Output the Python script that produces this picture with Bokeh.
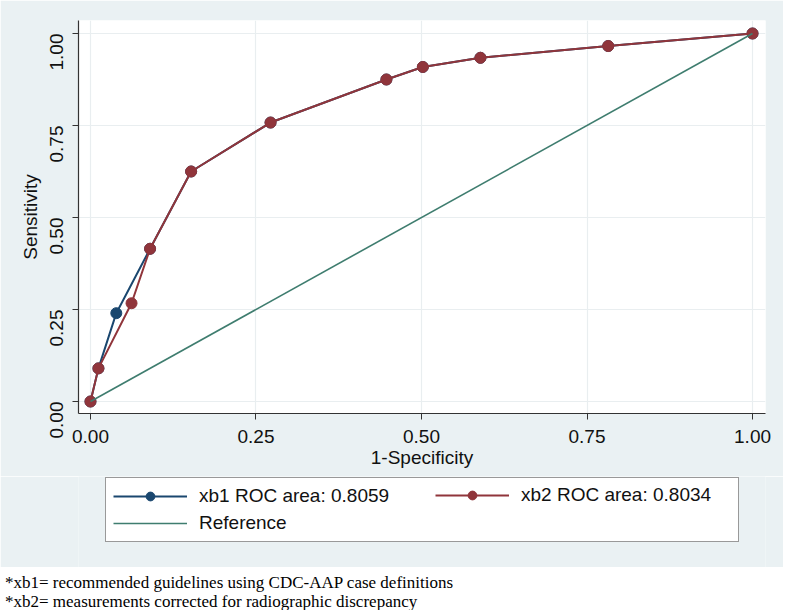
from bokeh.plotting import figure
from bokeh.models import (Legend, LegendItem, FixedTicker, PrintfTickFormatter,
                          Range1d, Div)
from bokeh.layouts import column
from bokeh.embed import file_html
from bokeh.resources import INLINE
import math

# ---- data ----
xb1_fpr = [0.0, 0.012, 0.039, 0.090, 0.152, 0.272, 0.447, 0.502, 0.589, 0.782, 1.0]
xb1_tpr = [0.0, 0.090, 0.240, 0.415, 0.625, 0.758, 0.875, 0.909, 0.934, 0.966, 1.0]
xb2_fpr = [0.0, 0.012, 0.062, 0.090, 0.152, 0.272, 0.447, 0.502, 0.589, 0.782, 1.0]
xb2_tpr = [0.0, 0.090, 0.267, 0.415, 0.625, 0.758, 0.875, 0.909, 0.934, 0.966, 1.0]
ref_x = [0.0, 1.0]
ref_y = [0.0, 1.0]
ticks = [0.0, 0.25, 0.5, 0.75, 1.0]
xb1_label = "xb1 ROC area: 0.8059"
xb2_label = "xb2 ROC area: 0.8034"
ref_label = "Reference"
x_title = "1-Specificity"
y_title = "Sensitivity"
notes = ["*xb1= recommended guidelines using CDC-AAP case definitions",
         "*xb2= measurements corrected for radiographic discrepancy"]

# ---- style ----
BG = "#eaf1f3"
NAVY = "#1a476f"
MAROON = "#90353b"
TEAL = "#3f7d6f"
GRID = "#e9eef0"
AXIS = "#333333"
FONT = "Liberation Sans"
FS = "19px"

p = figure(width=783, height=476, output_backend="svg", toolbar_location=None,
           x_range=Range1d(-0.0181, 1.0196), y_range=Range1d(-0.0326, 1.0353),
           min_border_left=78, min_border_right=18, min_border_top=20,
           min_border_bottom=63)
p.border_fill_color = BG
p.background_fill_color = "white"
p.outline_line_color = None

for ax in (p.xaxis[0], p.yaxis[0]):
    ax.ticker = FixedTicker(ticks=ticks)
    ax.formatter = PrintfTickFormatter(format="%.2f")
    ax.axis_line_color = AXIS
    ax.axis_line_width = 1.2
    ax.major_tick_line_color = AXIS
    ax.major_tick_out = 6
    ax.major_tick_in = 0
    ax.minor_tick_line_color = None
    ax.major_label_text_font = FONT
    ax.major_label_text_font_size = FS
    ax.major_label_text_color = "#111111"
    ax.axis_label_text_font = FONT
    ax.axis_label_text_font_size = FS
    ax.axis_label_text_font_style = "normal"
    ax.axis_label_text_color = "#111111"

p.xaxis.axis_label = x_title
p.yaxis.axis_label = y_title
p.yaxis.major_label_orientation = math.pi / 2
p.xaxis.major_label_standoff = 10
p.yaxis.major_label_standoff = 16
p.xaxis.axis_label_standoff = 1
p.yaxis.axis_label_standoff = 0

p.xgrid.ticker = FixedTicker(ticks=ticks)
p.ygrid.ticker = FixedTicker(ticks=ticks)
p.grid.grid_line_color = GRID
p.grid.grid_line_width = 1.2

p.line(xb1_fpr, xb1_tpr, line_color=NAVY, line_width=2)
p.scatter(xb1_fpr, xb1_tpr, size=11, fill_color=NAVY, line_color=NAVY)
p.line(xb2_fpr, xb2_tpr, line_color=MAROON, line_width=2)
p.scatter(xb2_fpr, xb2_tpr, size=11, fill_color=MAROON, line_color=MAROON)
p.line(ref_x, ref_y, line_color=TEAL, line_width=1.6)

# ---- legend strip (same background, frame aligned with the plot) ----
# its ranges lie away from the data, so the key renderers only show in the legend
lg = figure(width=783, height=91, output_backend="svg", toolbar_location=None,
            x_range=Range1d(5, 6), y_range=Range1d(5, 6),
            min_border_left=78, min_border_right=18, min_border_top=0,
            min_border_bottom=0)
lg.axis.visible = False
lg.grid.visible = False
lg.outline_line_color = None
lg.border_fill_color = BG
lg.background_fill_color = BG

k1l = lg.line(xb1_fpr, xb1_tpr, line_color=NAVY, line_width=2)
k1s = lg.scatter(xb1_fpr, xb1_tpr, size=10, fill_color=NAVY, line_color=NAVY)
k2l = lg.line(xb2_fpr, xb2_tpr, line_color=MAROON, line_width=2)
k2s = lg.scatter(xb2_fpr, xb2_tpr, size=10, fill_color=MAROON, line_color=MAROON)
krl = lg.line(ref_x, ref_y, line_color=TEAL, line_width=1.6)


def style_legend(lgd):
    lgd.label_text_font = FONT
    lgd.label_text_font_size = FS
    lgd.label_text_color = "#111111"
    lgd.glyph_width = 74
    lgd.glyph_height = 22
    lgd.label_height = 22
    lgd.label_standoff = 12
    lgd.padding = 7
    lgd.spacing = 5
    lgd.margin = 0


leg_a = Legend(items=[LegendItem(label=xb1_label, renderers=[k1l, k1s]),
                      LegendItem(label=ref_label, renderers=[krl])],
               location=(27, 25), orientation="vertical")
style_legend(leg_a)
leg_a.label_width = 532
leg_a.border_line_color = AXIS
leg_a.border_line_width = 1.2
leg_a.background_fill_color = "white"
leg_a.background_fill_alpha = 1
lg.add_layout(leg_a, "center")

leg_b = Legend(items=[LegendItem(label=xb2_label, renderers=[k2l, k2s])],
               location=(357, 61), orientation="vertical")
style_legend(leg_b)
leg_b.border_line_color = None
leg_b.background_fill_alpha = 0
lg.add_layout(leg_b, "center")

# ---- footnotes ----
note_html = ('<div style="font-family: \'Liberation Serif\', serif; font-size: 17px; '
             'line-height: 19px; padding-top: 1px; color: #000; white-space: nowrap;">'
             + "<br>".join(notes) + '</div>')
n = Div(text=note_html, width=783, height=43)

layout = column(p, lg, n)
open("out.html", "w").write(file_html(layout, INLINE))
